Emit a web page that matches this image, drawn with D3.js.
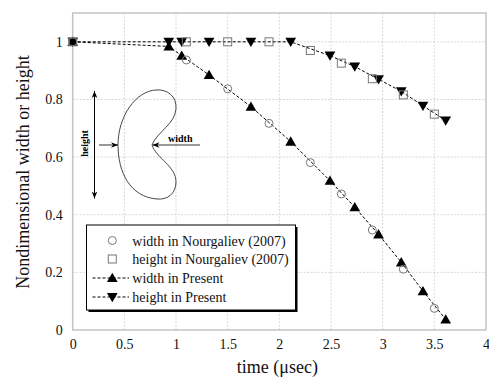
<!DOCTYPE html>
<html>
<head>
<meta charset="utf-8">
<script src="https://cdn.jsdelivr.net/npm/d3@7/dist/d3.min.js"></script>
<style>
  html, body { margin: 0; padding: 0; background: #fff; }
  svg { display: block; font-family: "Liberation Serif", "DejaVu Serif", serif; }
</style>
</head>
<body>
<svg id="chart" width="489" height="378"></svg>
<script>
// ─── data ───────────────────────────────────────────────────────────────────
const widthRefT   = [0, 1.10, 1.50, 1.90, 2.30, 2.60, 2.90, 3.20, 3.50];
const widthRefV   = [1, 0.937, 0.837, 0.717, 0.581, 0.472, 0.347, 0.211, 0.075];
const heightRefT  = [0, 1.10, 1.50, 1.90, 2.30, 2.60, 2.90, 3.20, 3.50];
const heightRefV  = [1, 1.0, 1.0, 1.0, 0.970, 0.926, 0.872, 0.816, 0.749];
const presentT    = [0, 0.93, 1.055, 1.32, 1.725, 2.11, 2.49, 2.73, 2.96, 3.18, 3.39, 3.61];
const widthPresV  = [1, 0.984, 0.952, 0.885, 0.775, 0.654, 0.518, 0.426, 0.332, 0.235, 0.135, 0.037];
const heightPresV = [1, 1.0, 1.0, 1.0, 1.0, 1.0, 0.952, 0.914, 0.870, 0.828, 0.778, 0.727];
const xTicks = [0, 0.5, 1, 1.5, 2, 2.5, 3, 3.5, 4];
const yTicks = [0, 0.2, 0.4, 0.6, 0.8, 1];
const legendLabels = [
  'width in Nourgaliev (2007)',
  'height in Nourgaliev (2007)',
  'width in Present',
  'height in Present'
];

// ─── layout ─────────────────────────────────────────────────────────────────
const W = 489, H = 378;
const M = { top: 13, right: 3, bottom: 48, left: 72.7 };
const iw = W - M.left - M.right;
const ih = H - M.top - M.bottom;
const SERIF = '"Liberation Serif", "DejaVu Serif", serif';

const svg = d3.select('#chart');
const x = d3.scaleLinear().domain([0, 4]).range([M.left, M.left + iw]);
const y = d3.scaleLinear().domain([0, 1.1]).range([M.top + ih, M.top]);

const zip = (ts, vs) => ts.map((t, i) => ({ t, v: vs[i] }));

// grid
const grid = svg.append('g').attr('stroke', '#cdcdcd').attr('stroke-width', 0.8)
  .attr('stroke-dasharray', '2,1.5');
grid.selectAll('.gx').data(xTicks.slice(1, -1)).join('line')
  .attr('x1', d => x(d)).attr('x2', d => x(d))
  .attr('y1', y(0)).attr('y2', y(1.1));
grid.selectAll('.gy').data(yTicks.slice(1)).join('line')
  .attr('x1', x(0)).attr('x2', x(4))
  .attr('y1', d => y(d)).attr('y2', d => y(d));

// frame
svg.append('rect')
  .attr('x', x(0)).attr('y', y(1.1))
  .attr('width', x(4) - x(0)).attr('height', y(0) - y(1.1))
  .attr('fill', 'none').attr('stroke', '#c4c4c4').attr('stroke-width', 1.5);

// axes (labels only, no tick marks)
const xAxis = svg.append('g').attr('transform', `translate(0,${y(0)})`)
  .call(d3.axisBottom(x).tickValues(xTicks).tickSize(0).tickPadding(9).tickFormat(d3.format('')));
const yAxis = svg.append('g').attr('transform', `translate(${x(0)},0)`)
  .call(d3.axisLeft(y).tickValues(yTicks).tickSize(0).tickPadding(10).tickFormat(d3.format('')));
[xAxis, yAxis].forEach(a => {
  a.attr('font-family', SERIF).attr('font-size', 14);
  a.select('.domain').remove();
  a.selectAll('text').attr('fill', '#111');
});

// axis titles
svg.append('text')
  .attr('x', x(2) - 2).attr('y', 373)
  .attr('text-anchor', 'middle').attr('font-size', 18).attr('fill', '#111')
  .text('time (\u03bcsec)');
svg.append('text')
  .attr('transform', `translate(29,${172}) rotate(-90)`)
  .attr('text-anchor', 'middle').attr('font-size', 18).attr('fill', '#111')
  .text('Nondimensional width or height');

// dashed lines for present results
const line = d3.line().x(d => x(d.t)).y(d => y(d.v));
const widthPres = zip(presentT, widthPresV);
const heightPres = zip(presentT, heightPresV);
[widthPres, heightPres].forEach(pts => {
  svg.append('path').datum(pts)
    .attr('d', line)
    .attr('fill', 'none').attr('stroke', '#000').attr('stroke-width', 1)
    .attr('stroke-dasharray', '3,2');
});

// symbols
const triUp = d3.symbol().type(d3.symbolTriangle).size(50);
function drawTri(sel, down) {
  sel.attr('d', triUp()).attr('fill', '#000')
    .attr('transform', p => `translate(${x(p.t)},${y(p.v) + (down ? -1 : 1)}) ${down ? 'rotate(180)' : ''}`);
}
svg.append('g').selectAll('path').data(widthPres).join('path').call(drawTri, false);
svg.append('g').selectAll('path').data(heightPres).join('path').call(drawTri, true);

svg.append('g').selectAll('circle').data(zip(widthRefT, widthRefV)).join('circle')
  .attr('cx', d => x(d.t)).attr('cy', d => y(d.v)).attr('r', 4)
  .attr('fill', 'none').attr('stroke', '#777').attr('stroke-width', 1);
svg.append('g').selectAll('rect').data(zip(heightRefT, heightRefV)).join('rect')
  .attr('x', d => x(d.t) - 4).attr('y', d => y(d.v) - 4)
  .attr('width', 8).attr('height', 8)
  .attr('fill', 'none').attr('stroke', '#777').attr('stroke-width', 1);

// ─── inset: droplet sketch ──────────────────────────────────────────────────
const defs = svg.append('defs');
defs.append('marker').attr('id', 'ah')
  .attr('viewBox', '0 0 10 10').attr('refX', 10).attr('refY', 5)
  .attr('markerWidth', 7).attr('markerHeight', 7).attr('markerUnits', 'userSpaceOnUse')
  .attr('orient', 'auto-start-reverse')
  .append('path').attr('d', 'M0,1 L10,5 L0,9 L3,5 Z').attr('fill', '#000');

const inset = svg.append('g');
inset.append('path')
  .attr('d', 'M156,90 C167,89 177,96 176,109 C175,124 157,132 152,145 ' +
             'C156,158 176,166 176,182 C176,194 167,200 157,199 ' +
             'C130,197 118,172 118,145 C118,116 136,91 156,90 Z')
  .attr('fill', 'none').attr('stroke', '#333').attr('stroke-width', 0.9);
inset.append('line').attr('x1', 94.5).attr('x2', 94.5).attr('y1', 91).attr('y2', 198.5)
  .attr('stroke', '#000').attr('stroke-width', 1)
  .attr('marker-start', 'url(#ah)').attr('marker-end', 'url(#ah)');
inset.append('line').attr('x1', 99).attr('x2', 118).attr('y1', 145).attr('y2', 145)
  .attr('stroke', '#000').attr('stroke-width', 0.8).attr('marker-end', 'url(#ah)');
inset.append('line').attr('x1', 200).attr('x2', 152.5).attr('y1', 145).attr('y2', 145)
  .attr('stroke', '#000').attr('stroke-width', 0.8).attr('marker-end', 'url(#ah)');
inset.append('text').attr('x', 168).attr('y', 141.5)
  .attr('font-size', 10).attr('font-weight', 'bold').text('width');
inset.append('text').attr('transform', 'translate(88,143.5) rotate(-90)')
  .attr('text-anchor', 'middle').attr('font-size', 10).attr('font-weight', 'bold').text('height');

// ─── legend ─────────────────────────────────────────────────────────────────
const lg = svg.append('g');
const lx = 86.5, ly = 225, lw = 209, lh = 85;
lg.append('rect').attr('x', lx + 2).attr('y', ly + 2).attr('width', lw).attr('height', lh).attr('fill', '#000');
lg.append('rect').attr('x', lx).attr('y', ly).attr('width', lw).attr('height', lh)
  .attr('fill', '#fff').attr('stroke', '#000').attr('stroke-width', 1);
const rowY = [240.5, 259, 278, 297];
const sx = 112.3;
lg.append('circle').attr('cx', sx).attr('cy', rowY[0]).attr('r', 4)
  .attr('fill', 'none').attr('stroke', '#777');
lg.append('rect').attr('x', sx - 4).attr('y', rowY[1] - 4).attr('width', 8).attr('height', 8)
  .attr('fill', 'none').attr('stroke', '#777');
[2, 3].forEach(i => {
  lg.append('line').attr('x1', 92.5).attr('x2', 129).attr('y1', rowY[i]).attr('y2', rowY[i])
    .attr('stroke', '#000').attr('stroke-dasharray', '3,2');
  lg.append('path').attr('d', triUp()).attr('fill', '#000')
    .attr('transform', `translate(${sx},${rowY[i] + (i === 3 ? -1 : 1)}) ${i === 3 ? 'rotate(180)' : ''}`);
});
lg.selectAll('text.lab').data(legendLabels).join('text')
  .attr('x', 132.3).attr('y', (d, i) => rowY[i] + 5)
  .attr('font-family', SERIF).attr('font-size', 14).attr('fill', '#111')
  .text(d => d);
</script>
</body>
</html>
